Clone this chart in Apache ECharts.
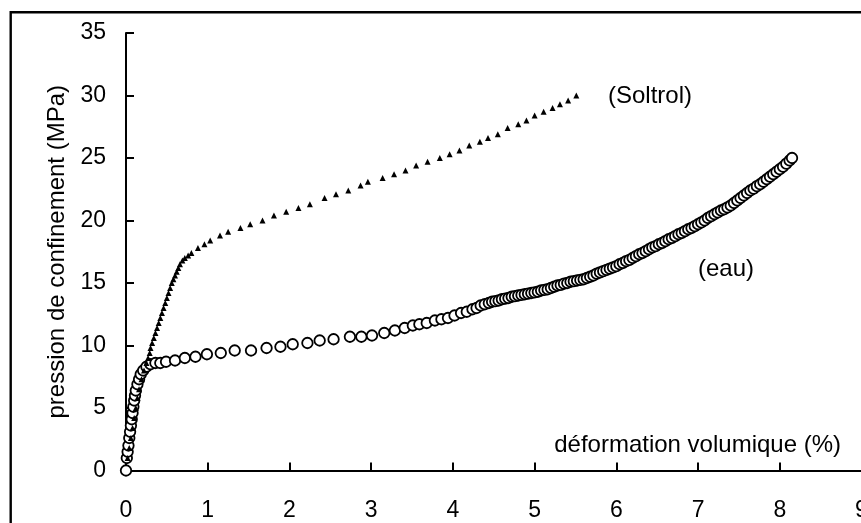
<!DOCTYPE html>
<html>
<head>
<meta charset="utf-8">
<script src="https://cdn.jsdelivr.net/npm/echarts@6/dist/echarts.min.js"></script>
<style>
html,body{margin:0;padding:0;background:#fff;}
#chart{width:861px;height:523px;}
</style>
</head>
<body>
<div id="chart"></div>
<script>
// ---- data ----
var xTicks = [0,1,2,3,4,5,6,7,8,9];
var yTicks = [0,5,10,15,20,25,30,35];
var xTitle = 'déformation volumique (%)';
var yTitle = 'pression de confinement (MPa)';
var soltrolLabel = '(Soltrol)';
var eauLabel = '(eau)';

// Soltrol: [déformation %, pression MPa]
var soltrol = [
  [0.02,1.0],[0.04,1.8],[0.06,2.6],[0.08,3.4],[0.10,4.2],[0.12,5.0],[0.14,5.8],
  [0.16,6.5],[0.19,7.3],[0.22,8.0],[0.25,8.6],
  [0.27,9.0],[0.29,9.4],[0.30,9.8],[0.32,10.2],[0.34,10.6],[0.36,11.0],
  [0.38,11.4],[0.40,11.8],[0.42,12.2],[0.44,12.6],[0.46,13.0],[0.48,13.4],
  [0.50,13.8],[0.52,14.2],[0.54,14.6],[0.56,15.0],[0.58,15.3],[0.60,15.6],
  [0.62,15.9],[0.64,16.2],[0.66,16.5],[0.69,16.8],[0.72,17.0],[0.76,17.2],
  [0.80,17.4],[0.88,17.8],
  [0.96,18.1],[1.03,18.4],[1.15,18.8],[1.25,19.1],[1.40,19.4],[1.52,19.7],
  [1.67,20.0],[1.81,20.4],[1.96,20.7],[2.11,21.0],[2.25,21.3],[2.43,21.8],
  [2.57,22.1],[2.72,22.4],[2.87,22.8],[2.96,23.1],[3.14,23.4],[3.28,23.7],
  [3.42,24.0],[3.55,24.4],[3.69,24.7],[3.84,25.0],[3.96,25.3],[4.08,25.6],
  [4.20,26.0],[4.33,26.3],[4.43,26.6],[4.55,26.9],[4.67,27.4],[4.80,27.7],
  [4.90,28.0],[5.00,28.4],[5.11,28.7],[5.22,29.0],[5.31,29.3],[5.41,29.6],
  [5.51,30.0]
];

// eau: [déformation %, pression MPa]
var eau = [
  [0,0],[0.01,1.0],[0.02,1.5],[0.03,2.0],[0.04,2.6],[0.05,3.1],[0.06,3.6],
  [0.07,4.1],[0.08,4.6],[0.09,5.1],[0.10,5.6],[0.11,6.0],[0.12,6.4],[0.14,6.9],
  [0.16,7.3],[0.18,7.7],[0.21,8.0],[0.25,8.3],[0.30,8.5],[0.36,8.6],[0.42,8.6],
  [0.49,8.7],[0.60,8.8],[0.72,9.0],[0.85,9.1],[0.99,9.3],[1.16,9.4],[1.33,9.6],
  [1.53,9.6],[1.72,9.8],[1.89,9.9],[2.04,10.1],[2.22,10.2],[2.37,10.4],
  [2.54,10.5],[2.74,10.7],[2.88,10.7],[3.01,10.8],[3.16,11.0],[3.29,11.2],
  [3.41,11.4],[3.51,11.6],[3.59,11.7],[3.68,11.8],[3.78,12.0],[3.86,12.1],
  [3.94,12.2],[4.02,12.4],[4.10,12.6],[4.17,12.7],[4.24,12.9],[4.29,13.0],
  [4.34,13.2],[4.39,13.3],[4.44,13.4],[4.48,13.5],[4.52,13.55],[4.56,13.6],
  [4.60,13.7],[4.64,13.75],[4.68,13.8],[4.72,13.9],[4.76,13.95],[4.80,14.0],
  [4.84,14.05],[4.88,14.1],[4.92,14.15],[4.96,14.2],[5.00,14.25],[5.04,14.3],
  [5.08,14.4],[5.12,14.45],[5.16,14.5],[5.20,14.6],[5.24,14.7],[5.28,14.8],
  [5.32,14.85],[5.36,14.95],[5.40,15.0],[5.44,15.1],[5.48,15.15],[5.52,15.2],
  [5.56,15.25],[5.60,15.3],[5.64,15.4],[5.68,15.5],[5.72,15.6],[5.76,15.75],
  [5.80,15.85],[5.84,15.95],[5.88,16.05],[5.92,16.15],[5.96,16.25],[6.00,16.35],
  [6.04,16.5],[6.08,16.6],[6.12,16.75],[6.16,16.85],[6.20,17.0],[6.24,17.15],
  [6.28,17.3],[6.32,17.4],[6.36,17.55],[6.40,17.7],[6.44,17.85],[6.48,17.95],
  [6.52,18.1],[6.56,18.2],[6.60,18.35],[6.64,18.5],[6.68,18.6],[6.72,18.75],
  [6.76,18.9],[6.80,19.0],[6.84,19.15],[6.88,19.3],[6.92,19.4],[6.96,19.55],
  [7.00,19.7],[7.04,19.85],[7.08,20.0],[7.12,20.2],[7.16,20.35],[7.20,20.5],
  [7.24,20.65],[7.28,20.8],[7.32,20.9],[7.36,21.05],[7.40,21.2],[7.44,21.4],
  [7.48,21.6],[7.52,21.8],[7.56,22.0],[7.60,22.2],[7.64,22.4],[7.68,22.55],
  [7.72,22.75],[7.76,22.9],[7.80,23.1],[7.84,23.3],[7.88,23.5],[7.92,23.7],
  [7.96,23.9],[8.00,24.1],[8.04,24.3],[8.08,24.55],[8.12,24.8],[8.15,25.0]
];

// ---- chart ----
var FONT = '"Liberation Sans", Arial, sans-serif';
var chart = echarts.init(document.getElementById('chart'), null, {renderer:'canvas'});
var axisCommon = {
  axisLine:{show:true, onZero:false, lineStyle:{color:'#000', width:2}},
  axisTick:{show:true, inside:true, length:8, lineStyle:{color:'#000', width:2}},
  splitLine:{show:false},
  axisLabel:{color:'#000', fontSize:23, fontFamily:FONT}
};
chart.setOption({
  animation:false,
  backgroundColor:'#fff',
  grid:{left:126, top:33, width:735.5, height:437.5, containLabel:false, outerBoundsMode:'none'},
  xAxis:Object.assign({}, axisCommon, {
    type:'value', min:xTicks[0], max:xTicks[xTicks.length-1], interval:1,
    axisLabel:Object.assign({}, axisCommon.axisLabel, {margin:29, showMaxLabel:true, hideOverlap:false})
  }),
  yAxis:Object.assign({}, axisCommon, {
    type:'value', min:yTicks[0], max:yTicks[yTicks.length-1], interval:5,
    name:yTitle, nameLocation:'middle', nameGap:56, nameRotate:90,
    nameTextStyle:{color:'#000', fontSize:24, fontFamily:FONT},
    axisLabel:Object.assign({}, axisCommon.axisLabel, {margin:20})
  }),
  series:[
    {
      name:'eau', type:'scatter', data:eau, symbol:'circle', symbolSize:10.5,
      itemStyle:{color:'#fff', borderColor:'#000', borderWidth:1.8, opacity:1},
      z:2
    },
    {
      name:'Soltrol', type:'scatter', data:soltrol, symbol:'triangle', symbolSize:6,
      itemStyle:{color:'#000', opacity:1},
      z:3
    }
  ],
  graphic:[
    {type:'rect', shape:{x:10.7, y:12.2, width:1200, height:1200},
     style:{fill:null, stroke:'#000', lineWidth:2.4}, silent:true, z:10},
    {type:'text', x:841, y:445,
     style:{text:xTitle, fill:'#000', font:'24px ' + FONT, align:'right', verticalAlign:'middle'}},
    {type:'text', x:608, y:96,
     style:{text:soltrolLabel, fill:'#000', font:'24px ' + FONT, align:'left', verticalAlign:'middle'}},
    {type:'text', x:698, y:269,
     style:{text:eauLabel, fill:'#000', font:'24px ' + FONT, align:'left', verticalAlign:'middle'}}
  ]
});
</script>
</body>
</html>
